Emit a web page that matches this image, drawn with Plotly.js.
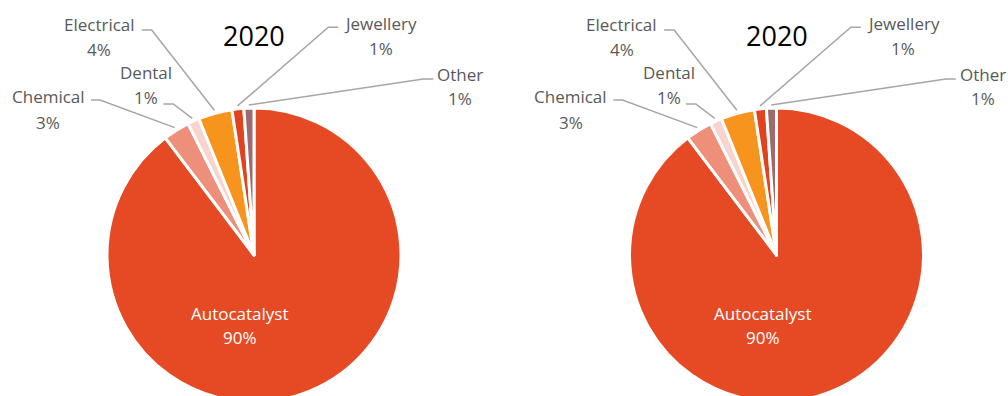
<!DOCTYPE html>
<html>
<head>
<meta charset="utf-8">
<script src="https://cdn.plot.ly/plotly-3.0.1.min.js"></script>
<style>
html,body{margin:0;padding:0;background:#fff;overflow:hidden;}
#wrap{width:1008px;height:396px;overflow:hidden;position:relative;}
#chart{width:1008px;height:430px;}
</style>
</head>
<body>
<div id="wrap"><div id="chart"></div></div>
<script>
// ---- data ----
const categories = ["Autocatalyst", "Chemical", "Dental", "Electrical", "Jewellery", "Other"];
const values2020a = [89.6, 2.9, 1.3, 3.7, 1.3, 1.1];
const values2020b = [89.6, 2.9, 1.3, 3.7, 1.3, 1.1];
const chartTitles = ["2020", "2020"];
const sliceColors = ["#E64A24", "#EE9079", "#F9D3CE", "#F7941D", "#E3421E", "#9E6A6E"];

// ---- layout constants (pixels) ----
const W = 1008, H = 430;
const centersX = [254, 776.5];
const centerY = 255;
const R = 147;
const textGray = "#595959";
const lineGray = "#A6A6A6";
const FONT = "Open Sans, Lato, sans-serif";

// label placement relative to pie centre: text x, name y, percent y, line start, elbow
const labelPlace = {
  "Chemical":   {tx: -206, ny: -159, py: -132.5, sx: -163, sy: -155, ex: -154, ey: -155},
  "Dental":     {tx: -108, ny: -182.5, py: -157, sx: -90.7, sy: -151, ex: -80.7, ey: -151},
  "Electrical": {tx: -155, ny: -230.5, py: -205, sx: -112.3, sy: -225, ex: -102.3, ey: -225},
  "Jewellery":  {tx: 126.5, ny: -232, py: -206.7, sx: 84.3, sy: -227.7, ex: 74.3, ey: -227.7},
  "Other":      {tx: 206, ny: -181, py: -156.7, sx: 179.3, sy: -176, ex: 169.3, ey: -176}
};
const insidePlace = {tx: -14, ny: 58, py: 82};

const px = x => x / W;
const py = y => 1 - y / H;

const allValues = [values2020a, values2020b];
const traces = [];
const annotations = [];
const shapes = [];

allValues.forEach((vals, k) => {
  const cx = centersX[k];
  traces.push({
    type: "pie",
    labels: categories,
    values: vals,
    sort: false,
    direction: "clockwise",
    rotation: 0,
    textinfo: "none",
    hoverinfo: "label+percent",
    marker: {colors: sliceColors, line: {color: "#ffffff", width: 3}},
    domain: {x: [px(cx - R), px(cx + R)], y: [py(centerY + R), py(centerY - R)]},
    showlegend: false
  });

  // title
  annotations.push({
    xref: "paper", yref: "paper", x: px(cx), y: py(35), text: chartTitles[k],
    showarrow: false, xanchor: "center", yanchor: "middle",
    font: {family: FONT, size: 27, color: "#000000"}
  });

  const total = vals.reduce((a, b) => a + b, 0);
  let cum = 0;
  vals.forEach((v, i) => {
    const frac = v / total;
    const mid = (cum + frac / 2) * 2 * Math.PI;
    cum += frac;
    const pct = Math.round(frac * 100) + "%";
    const name = categories[i];
    if (i === 0) {
      annotations.push({xref: "paper", yref: "paper", x: px(cx + insidePlace.tx), y: py(centerY + insidePlace.ny),
        text: name, showarrow: false, xanchor: "center", yanchor: "middle",
        font: {family: FONT, size: 17, color: "#ffffff"}});
      annotations.push({xref: "paper", yref: "paper", x: px(cx + insidePlace.tx), y: py(centerY + insidePlace.py),
        text: pct, showarrow: false, xanchor: "center", yanchor: "middle",
        font: {family: FONT, size: 17, color: "#ffffff"}});
      return;
    }
    const L = labelPlace[name];
    annotations.push({xref: "paper", yref: "paper", x: px(cx + L.tx), y: py(centerY + L.ny),
      text: name, showarrow: false, xanchor: "center", yanchor: "middle",
      font: {family: FONT, size: 17, color: textGray}});
    annotations.push({xref: "paper", yref: "paper", x: px(cx + L.tx), y: py(centerY + L.py),
      text: pct, showarrow: false, xanchor: "center", yanchor: "middle",
      font: {family: FONT, size: 17, color: textGray}});
    const endX = cx + (R + 3) * Math.sin(mid);
    const endY = centerY - (R + 3) * Math.cos(mid);
    shapes.push({
      type: "path", xref: "paper", yref: "paper",
      path: "M " + px(cx + L.sx) + " " + py(centerY + L.sy) +
            " L " + px(cx + L.ex) + " " + py(centerY + L.ey) +
            " L " + px(endX) + " " + py(endY),
      line: {color: lineGray, width: 1.5}
    });
  });
});

const layout = {
  width: W, height: H,
  margin: {l: 0, r: 0, t: 0, b: 0},
  paper_bgcolor: "#ffffff",
  plot_bgcolor: "#ffffff",
  showlegend: false,
  annotations: annotations,
  shapes: shapes
};

Plotly.newPlot("chart", traces, layout, {displayModeBar: false, staticPlot: true});
</script>
</body>
</html>
